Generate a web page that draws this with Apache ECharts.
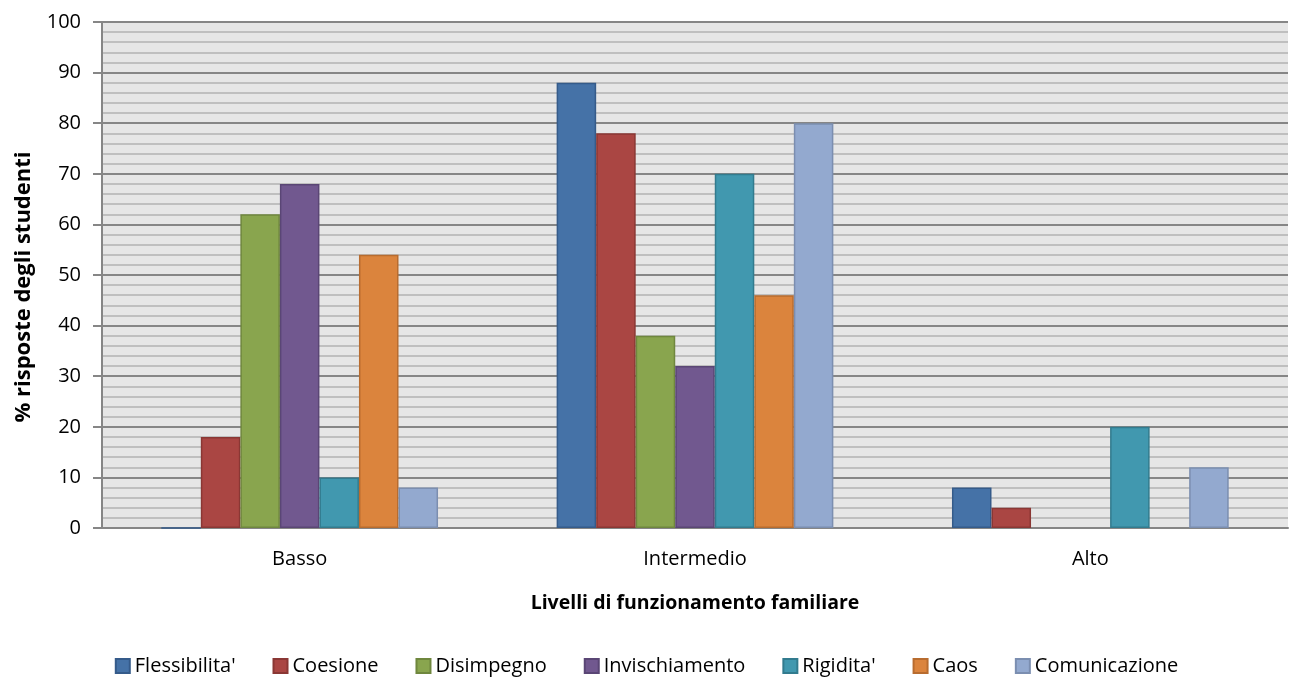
<!DOCTYPE html>
<html><head><meta charset="utf-8">
<script src="https://cdn.jsdelivr.net/npm/echarts@6/dist/echarts.min.js"></script>
<style>html,body{margin:0;padding:0;background:#fff}#c{width:1293px;height:677px}</style>
</head><body><div id="c"></div>
<script>
var categories = ['Basso', 'Intermedio', 'Alto'];
var seriesNames = ["Flessibilita'", 'Coesione', 'Disimpegno', 'Invischiamento', "Rigidita'", 'Caos', 'Comunicazione'];
var flessibilita = [0, 88, 8];
var coesione = [18, 78, 4];
var disimpegno = [62, 38, null];
var invischiamento = [68, 32, null];
var rigidita = [10, 70, 20];
var caos = [54, 46, null];
var comunicazione = [8, 80, 12];
var values = [flessibilita, coesione, disimpegno, invischiamento, rigidita, caos, comunicazione];
var colors = ['#4572a7', '#aa4643', '#89a54e', '#71588f', '#4198af', '#db843d', '#93a9cf'];
var borders = ['#355b8a', '#8a3734', '#6f873e', '#5a4675', '#327b8e', '#b86c2f', '#7b8eb0'];
var font = 'Open Sans, Noto Sans, sans-serif';

var chart = echarts.init(document.getElementById('c'));
chart.setOption({
  animation: false,
  grid: { left: 102, right: 5, top: 22, bottom: 149, backgroundColor: '#e6e6e6', show: true, borderWidth: 0 },
  graphic: [{
    type: 'text', x: 24, y: 287, rotation: Math.PI / 2,
    style: { text: '% risposte degli studenti', fontFamily: font, fontSize: 22, fontWeight: 'bold', fill: '#000', align: 'center', verticalAlign: 'middle' }
  }],
  legend: {
    top: 651, left: 'center', itemWidth: 14, itemHeight: 14, itemGap: 37, icon: 'rect',
    textStyle: { fontFamily: font, fontSize: 20, color: '#000' },
    data: seriesNames
  },
  xAxis: {
    type: 'category', data: categories,
    name: 'Livelli di funzionamento familiare', nameLocation: 'middle', nameGap: 65,
    nameTextStyle: { fontFamily: font, fontSize: 19.5, fontWeight: 'bold', color: '#000' },
    axisLine: { lineStyle: { color: '#868686', width: 2 } },
    axisTick: { show: false },
    axisLabel: { fontFamily: font, fontSize: 20, color: '#000', margin: 21 }
  },
  yAxis: {
    type: 'value', min: 0, max: 100, interval: 10,
    axisLine: { show: true, lineStyle: { color: '#868686', width: 2 } },
    axisTick: { show: true, length: 9, lineStyle: { color: '#868686', width: 2 } },
    axisLabel: { fontFamily: font, fontSize: 20, color: '#000', margin: 21 },
    splitLine: { lineStyle: { color: '#868686', width: 2 } },
    minorTick: { show: false, splitNumber: 5 },
    minorSplitLine: { show: true, lineStyle: { color: '#bfbfbf', width: 2 } }
  },
  series: seriesNames.map(function (n, i) {
    return {
      name: n, type: 'bar', data: values[i], barGap: '0%', barCategoryGap: '30%',
      itemStyle: { color: colors[i], borderColor: borders[i], borderWidth: 1.5 }
    };
  })
});
</script></body></html>
